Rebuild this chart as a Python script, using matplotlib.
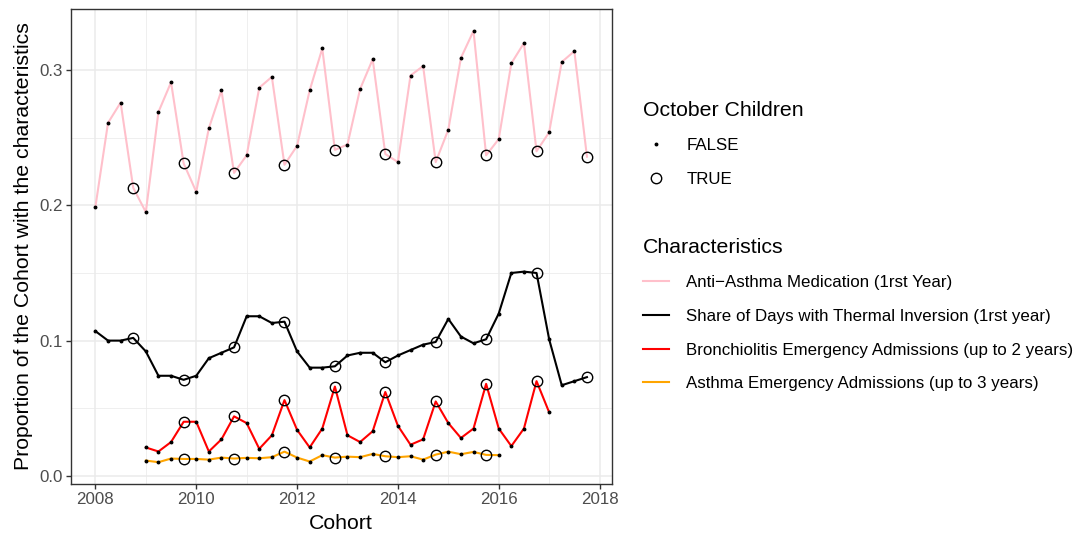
import matplotlib
matplotlib.use("Agg")
import matplotlib.pyplot as plt
from matplotlib.lines import Line2D
from matplotlib.ticker import MultipleLocator, FormatStrFormatter

plt.rcParams['font.family'] = ['Liberation Sans', 'DejaVu Sans']

# quarterly cohorts
cohort = [2008.0, 2008.25, 2008.5, 2008.75, 2009.0, 2009.25, 2009.5, 2009.75,
          2010.0, 2010.25, 2010.5, 2010.75, 2011.0, 2011.25, 2011.5, 2011.75,
          2012.0, 2012.25, 2012.5, 2012.75, 2013.0, 2013.25, 2013.5, 2013.75,
          2014.0, 2014.25, 2014.5, 2014.75, 2015.0, 2015.25, 2015.5, 2015.75,
          2016.0, 2016.25, 2016.5, 2016.75, 2017.0, 2017.25, 2017.5, 2017.75]

anti_asthma = [0.199, 0.261, 0.276, 0.213, 0.195, 0.269, 0.291, 0.231,
               0.210, 0.257, 0.285, 0.224, 0.237, 0.287, 0.295, 0.230,
               0.244, 0.285, 0.316, 0.241, 0.245, 0.286, 0.308, 0.238,
               0.232, 0.296, 0.303, 0.232, 0.256, 0.309, 0.329, 0.237,
               0.249, 0.305, 0.320, 0.240, 0.254, 0.306, 0.314, 0.236]

thermal = [0.107, 0.100, 0.100, 0.102, 0.092, 0.074, 0.074, 0.071,
           0.074, 0.087, 0.091, 0.095, 0.118, 0.118, 0.113, 0.114,
           0.092, 0.080, 0.080, 0.081, 0.089, 0.091, 0.091, 0.084,
           0.089, 0.093, 0.097, 0.099, 0.116, 0.103, 0.098, 0.101,
           0.120, 0.150, 0.151, 0.150, 0.101, 0.067, 0.070, 0.073]

# bronchiolitis starts 2009.0 and ends 2017.0
bronch = [0.021, 0.018, 0.025, 0.040, 0.040, 0.018, 0.027, 0.044,
          0.039, 0.020, 0.030, 0.056, 0.034, 0.021, 0.035, 0.066,
          0.030, 0.025, 0.033, 0.062, 0.037, 0.023, 0.027, 0.055,
          0.039, 0.028, 0.035, 0.068, 0.035, 0.022, 0.035, 0.070,
          0.047]

# asthma admissions start 2009.0 and end 2016.0
asthma = [0.0113, 0.0101, 0.0128, 0.0125, 0.0125, 0.0120, 0.0135, 0.0128,
          0.0133, 0.0130, 0.0138, 0.0179, 0.0135, 0.0106, 0.0153, 0.0135,
          0.0142, 0.0138, 0.0162, 0.0145, 0.0138, 0.0145, 0.0120, 0.0157,
          0.0179, 0.0160, 0.0177, 0.0155, 0.0153]

SERIES = [
    ("Anti\u2212Asthma Medication (1rst Year)", cohort, anti_asthma, 'pink'),
    ("Share of Days with Thermal Inversion (1rst year)", cohort, thermal, 'black'),
    ("Bronchiolitis Emergency Admissions (up to 2 years)", cohort[4:37], bronch, 'red'),
    ("Asthma Emergency Admissions (up to 3 years)", cohort[4:33], asthma, 'orange'),
]

GRID = '#EBEBEB'
DARK = '#333333'
TICK_TXT = '#4D4D4D'

fig = plt.figure(figsize=(10.78, 5.35), dpi=100)
ax = fig.add_axes([0.0656, 0.0959, 0.5018, 0.8873])

for name, x, y, col in SERIES:
    ax.plot(x, y, color=col, linewidth=1.5, zorder=3)
    octo = [c % 1 == 0.75 for c in x]
    ax.plot([a for a, o in zip(x, octo) if not o], [b for b, o in zip(y, octo) if not o],
            ls='none', marker='o', ms=1.8, color='black', zorder=4)
    ax.plot([a for a, o in zip(x, octo) if o], [b for b, o in zip(y, octo) if o],
            ls='none', marker='o', ms=7.5, mfc='none', mec='black', mew=1.0, zorder=5)

ax.set_xlim(2007.51, 2018.24)
ax.set_ylim(-0.0058, 0.3452)
ax.xaxis.set_major_locator(MultipleLocator(2))
ax.xaxis.set_minor_locator(MultipleLocator(1))
ax.yaxis.set_major_locator(MultipleLocator(0.1))
ax.yaxis.set_minor_locator(MultipleLocator(0.05))
ax.yaxis.set_major_formatter(FormatStrFormatter('%.1f'))
ax.grid(which='major', color=GRID, linewidth=1.1, zorder=0)
ax.grid(which='minor', color=GRID, linewidth=0.55, zorder=0)
ax.set_axisbelow(True)
ax.tick_params(which='major', length=3.5, width=1.0, color=DARK, labelcolor=TICK_TXT,
               labelsize=12.2, pad=2.5)
ax.tick_params(which='minor', length=0)
for s in ax.spines.values():
    s.set_color(DARK)
    s.set_linewidth(1.0)

ax.set_xlabel("Cohort", fontsize=15.3, labelpad=5)
ax.set_ylabel("Proportion of the Cohort with the characteristics", fontsize=15.3, labelpad=4)

oct_handles = [Line2D([], [], ls='none', marker='o', ms=1.8, color='black'),
               Line2D([], [], ls='none', marker='o', ms=7.5, mfc='none', mec='black', mew=1.0)]
leg1 = fig.legend(oct_handles, ["FALSE", "TRUE"], title="October Children",
                  loc='upper left', bbox_to_anchor=(0.5965, 0.8117), frameon=False,
                  alignment='left', fontsize=12.2, title_fontsize=15.3,
                  handlelength=1.55, handletextpad=1.0, labelspacing=1.1,
                  borderpad=0, borderaxespad=0)

char_handles = [Line2D([], [], color=col, linewidth=1.5) for _, _, _, col in SERIES]
leg2 = fig.legend(char_handles, [s[0] for s in SERIES], title="Characteristics",
                  loc='upper left', bbox_to_anchor=(0.5965, 0.5556), frameon=False,
                  alignment='left', fontsize=12.2, title_fontsize=15.3,
                  handlelength=1.55, handletextpad=1.0, labelspacing=1.1,
                  borderpad=0, borderaxespad=0)

fig.savefig("out.png", dpi=100)
